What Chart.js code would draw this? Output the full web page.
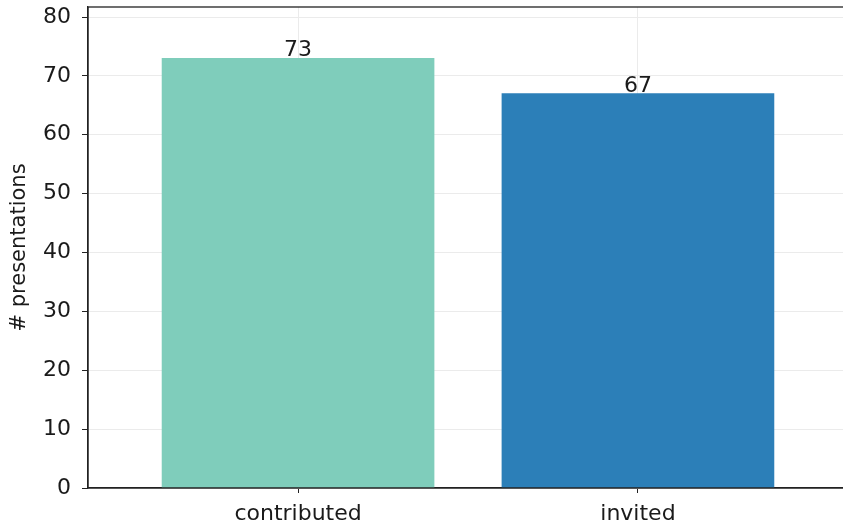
<!DOCTYPE html>
<html>
<head>
<meta charset="utf-8">
<script src="https://cdn.jsdelivr.net/npm/chart.js@4"></script>
<style>
  html, body { margin: 0; padding: 0; background: #fff; overflow: hidden; }
  #wrap { width: 850px; height: 530px; }
</style>
</head>
<body>
<div id="wrap"><canvas id="chart"></canvas></div>
<script>
// categories and counts
const categories = ["contributed", "invited"];
const counts = [73, 67];
const barColors = ["#7fcdbb", "#2c7fb8"];
const yTicks = [0, 10, 20, 30, 40, 50, 60, 70, 80];

const FONT = "'DejaVu Sans', sans-serif";
const FSIZE = 22;

// value labels on top of each bar
const barLabels = {
  id: "barLabels",
  afterDatasetsDraw(chart) {
    const ctx = chart.ctx;
    const meta = chart.getDatasetMeta(0);
    ctx.save();
    ctx.font = FSIZE + "px " + FONT;
    ctx.fillStyle = "#1a1a1a";
    ctx.textAlign = "center";
    ctx.textBaseline = "alphabetic";
    meta.data.forEach((bar, i) => {
      ctx.fillText(String(counts[i]), bar.x, bar.y - 2);
    });
    ctx.restore();
  }
};

// full box around the plot area (matplotlib style spines)
const frame = {
  id: "frame",
  afterDraw(chart) {
    const a = chart.chartArea;
    const ctx = chart.ctx;
    ctx.save();
    ctx.strokeStyle = "#222";
    ctx.lineWidth = 1.3;
    ctx.strokeRect(a.left, a.top, a.right - a.left, a.bottom - a.top);
    ctx.restore();
  }
};

new Chart(document.getElementById("chart"), {
  type: "bar",
  data: {
    datasets: [{
      data: categories.map((c, i) => ({ x: i, y: counts[i] })),
      backgroundColor: barColors,
      borderWidth: 0,
      barThickness: 272,
    }],
  },
  options: {
    responsive: true,
    maintainAspectRatio: false,
    animation: false,
    layout: { padding: { top: 7, right: 2, left: 0, bottom: 0 } },
    plugins: {
      legend: { display: false },
      tooltip: { enabled: false },
    },
    scales: {
      x: {
        type: "linear",
        min: -0.618,
        max: 1.618,
        offset: false,
        afterBuildTicks(scale) {
          scale.ticks = categories.map((c, i) => ({ value: i }));
        },
        afterFit(scale) {
          scale.height = 42;
          scale.paddingLeft = 0;
          scale.paddingRight = 0;
        },
        ticks: {
          callback: (v) => categories[v],
          font: { family: FONT, size: FSIZE },
          color: "#1a1a1a",
          padding: 8,
          maxRotation: 0,
        },
        grid: {
          offset: false,
          color: "#ebebeb",
          tickColor: "#222",
          tickLength: 5,
          lineWidth: 1,
        },
        border: { color: "#222", width: 1.3 },
      },
      y: {
        min: 0,
        max: 81.7,
        afterBuildTicks(scale) {
          scale.ticks = yTicks.map(v => ({ value: v }));
        },
        afterFit(scale) {
          scale.width = 88;
          scale.paddingTop = 0;
          scale.paddingBottom = 0;
        },
        ticks: {
          font: { family: FONT, size: FSIZE },
          color: "#1a1a1a",
          padding: 11,
        },
        grid: {
          color: "#ebebeb",
          tickColor: "#222",
          tickLength: 6,
          lineWidth: 1,
        },
        border: { color: "#222", width: 1.3 },
        title: {
          display: true,
          text: "# presentations",
          font: { family: FONT, size: 21 },
          color: "#1a1a1a",
          padding: { top: 7, bottom: 0 },
        },
      },
    },
  },
  plugins: [barLabels, frame],
});
</script>
</body>
</html>
